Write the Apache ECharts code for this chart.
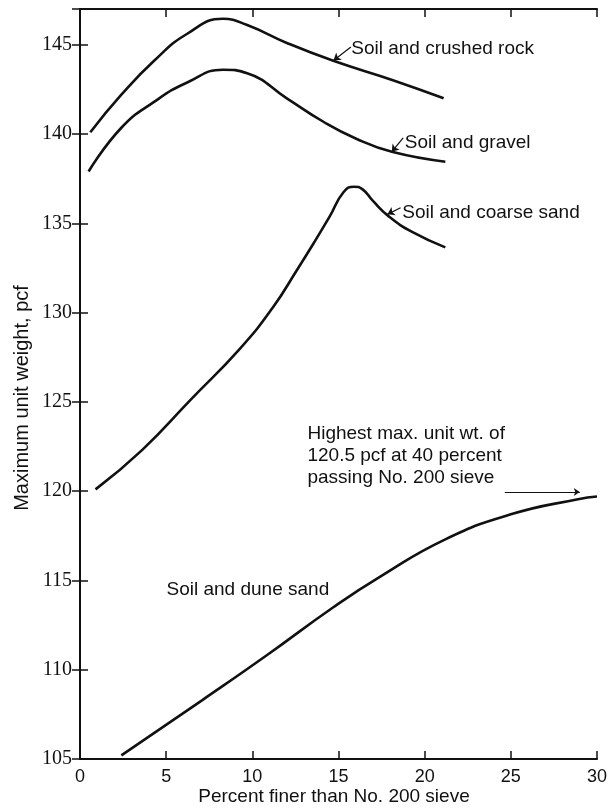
<!DOCTYPE html>
<html>
<head>
<meta charset="utf-8">
<script src="https://cdn.jsdelivr.net/npm/echarts@6/dist/echarts.min.js"></script>
<style>
  html, body { margin: 0; padding: 0; background: #ffffff; }
  #chart { width: 610px; height: 809px; }
</style>
</head>
<body>
<div id="chart"></div>
<script>
// Tick values on both axes
const xTicks = [0, 5, 10, 15, 20, 25, 30];
const yTicks = [105, 110, 115, 120, 125, 130, 135, 140, 145];

// Maximum unit weight (pcf) vs percent finer than No. 200 sieve
const crushedRock = [[0.6, 140.1], [2.4, 142.2], [4.3, 144.1], [6.2, 145.6], [8.3, 146.45],
  [9.7, 146.1], [12.0, 145.1], [14.7, 144.1], [18.2, 143.0], [21.1, 142.0]];
const gravel = [[0.5, 137.9], [2.4, 140.35], [4.3, 141.8], [6.25, 142.9], [8.3, 143.6],
  [9.7, 143.4], [12.0, 142.0], [14.1, 140.7], [16.0, 139.75], [18.1, 139.0], [21.2, 138.45]];
const coarseSand = [[0.9, 120.1], [3.6, 122.3], [6.4, 125.1], [9.3, 128.0], [11.2, 130.3],
  [12.6, 132.4], [13.6, 133.95], [14.5, 135.4], [15.3, 136.75], [15.9, 137.05], [16.4, 136.9],
  [17.0, 136.25], [17.9, 135.4], [19.3, 134.5], [21.2, 133.65]];
const duneSand = [[2.4, 105.2], [7.1, 108.3], [10.9, 110.85], [14.7, 113.5], [17.4, 115.2],
  [21.2, 117.3], [25.0, 118.7], [28.9, 119.55], [30.0, 119.7]];

// Note about the highest value, reached beyond the plotted range
const peakNote = ['Highest max. unit wt. of', '120.5 pcf at 40 percent', 'passing No. 200 sieve'];

const ink = '#111111';
const sansFont = '"Liberation Sans", Arial, sans-serif';
const serifFont = '"Liberation Serif", "Times New Roman", serif';

function textPoint(coord, text, extra) {
  return {
    coord: coord,
    label: Object.assign({
      show: true, position: 'right', distance: 0, formatter: text,
      fontFamily: sansFont, fontSize: 19, color: ink
    }, extra || {})
  };
}

function pointer(from, to, size) {
  return [{ coord: from, symbol: 'none' }, { coord: to, symbol: 'arrow', symbolSize: size || 7 }];
}

function curve(name, data, labels, arrows) {
  return {
    type: 'line', name: name, data: data, smooth: 0.5,
    symbol: 'none', silent: true, xAxisIndex: 0, yAxisIndex: 0,
    lineStyle: { color: ink, width: 2.6 },
    markPoint: { symbol: 'circle', symbolSize: 0, silent: true, data: labels },
    markLine: {
      silent: true, symbol: ['none', 'arrow'],
      lineStyle: { color: ink, width: 1.2, type: 'solid' },
      label: { show: false }, data: arrows
    }
  };
}

const frameAxis = {
  axisLine: { show: true, lineStyle: { color: ink, width: 2 } },
  axisTick: { show: true, inside: true, length: 8, lineStyle: { color: ink, width: 1.5 } },
  splitLine: { show: false }
};

const chart = echarts.init(document.getElementById('chart'), null, { renderer: 'canvas' });
chart.setOption({
  animation: false,
  backgroundColor: '#ffffff',
  grid: { left: 80, right: 9, top: 9, bottom: 50 },
  xAxis: [
    Object.assign({
      type: 'value', min: 0, max: 30, interval: 5, position: 'bottom',
      axisLabel: {
        margin: 9, fontFamily: sansFont, fontSize: 18, color: ink,
        formatter: v => (xTicks.includes(v) ? String(v) : '')
      }
    }, frameAxis),
    Object.assign({
      type: 'value', min: 0, max: 30, interval: 5, position: 'top',
      axisLabel: { show: false }
    }, frameAxis)
  ],
  yAxis: [
    Object.assign({
      type: 'value', min: 105, max: 147, interval: 5, position: 'left',
      axisLabel: {
        margin: 8, fontFamily: serifFont, fontSize: 20, color: ink, showMaxLabel: false,
        formatter: v => (yTicks.includes(v) ? String(v) : '')
      }
    }, frameAxis),
    Object.assign({
      type: 'value', min: 105, max: 147, interval: 5, position: 'right',
      axisLabel: { show: false }
    }, frameAxis)
  ],
  series: [
    curve('Soil and crushed rock', crushedRock,
      [textPoint([15.74, 144.75], 'Soil and crushed rock')],
      [pointer([15.72, 144.87], [14.71, 144.12])]),
    curve('Soil and gravel', gravel,
      [textPoint([18.85, 139.5], 'Soil and gravel')],
      [pointer([18.75, 139.78], [18.09, 139.0])]),
    curve('Soil and coarse sand', coarseSand,
      [textPoint([18.7, 135.6], 'Soil and coarse sand')],
      [pointer([18.6, 135.87], [17.84, 135.5])]),
    curve('Soil and dune sand', duneSand,
      [textPoint([5.02, 114.47], 'Soil and dune sand'),
       textPoint([13.2, 122.0], peakNote.join('\n'), { lineHeight: 22 })],
      [pointer([24.65, 119.95], [29.0, 119.95], 6)])
  ],
  graphic: [
    {
      type: 'text', x: 22, y: 398, rotation: Math.PI / 2, silent: true,
      style: {
        text: 'Maximum unit weight, pcf', fontFamily: sansFont, fontSize: 20, fill: ink,
        align: 'center', verticalAlign: 'middle', textAlign: 'center', textVerticalAlign: 'middle'
      }
    },
    {
      type: 'text', x: 334, y: 797, silent: true,
      style: {
        text: 'Percent finer than No. 200 sieve', fontFamily: sansFont, fontSize: 19, fill: ink,
        align: 'center', verticalAlign: 'middle', textAlign: 'center', textVerticalAlign: 'middle'
      }
    }
  ]
});
</script>
</body>
</html>
